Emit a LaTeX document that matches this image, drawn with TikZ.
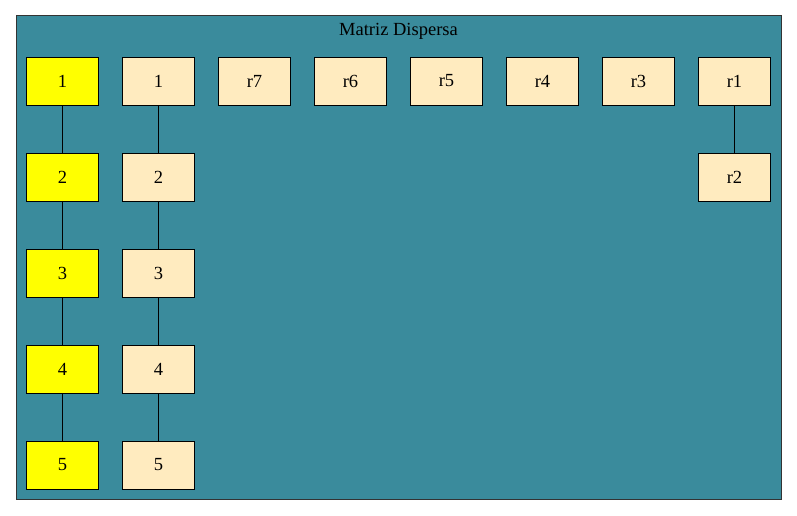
\documentclass[tikz,border=0pt]{standalone}
\usepackage{fontspec}
\setmainfont{Liberation Serif}
\definecolor{clusterfill}{RGB}{58,139,156}
\definecolor{cream}{RGB}{255,235,191}
\definecolor{yel}{RGB}{255,255,0}
\begin{document}
\begin{tikzpicture}[x=1pt,y=-1pt,
  cell/.style={draw=black,line width=0.9pt,minimum width=72pt,minimum height=48pt,inner sep=0pt,font=\fontsize{18.5}{20}\selectfont},
  head/.style={cell,fill=yel},
  cl/.style={cell,fill=cream},
  link/.style={draw=black,line width=0.9pt}]
\useasboundingbox (0,0) rectangle (797,516);
\filldraw[fill=clusterfill,draw=black!80,line width=1pt] (16,15.5) rectangle (781,499);
\node[font=\fontsize{18.5}{20}\selectfont] (title) at (398.5,31) {Matriz Dispersa};
% column of heads
\node[head] (h1) at (62.5,81) {1};
\node[head] (h2) at (62.5,177) {2};
\node[head] (h3) at (62.5,273) {3};
\node[head] (h4) at (62.5,369) {4};
\node[head] (h5) at (62.5,465) {5};
% second column
\node[cl] (c1) at (158.5,81) {1};
\node[cl] (c2) at (158.5,177) {2};
\node[cl] (c3) at (158.5,273) {3};
\node[cl] (c4) at (158.5,369) {4};
\node[cl] (c5) at (158.5,465) {5};
% top row
\node[cl] (r7) at (254.5,81) {r7};
\node[cl] (r6) at (350.5,81) {r6};
\node[cl] (r5) at (446.5,81) {r5};
\node[cl] (r4) at (542.5,81) {r4};
\node[cl] (r3) at (638.5,81) {r3};
\node[cl] (r1) at (734.5,81) {r1};
\node[cl] (r2) at (734.5,177) {r2};
% links
\draw[link] (h1) -- (h2);
\draw[link] (h2) -- (h3);
\draw[link] (h3) -- (h4);
\draw[link] (h4) -- (h5);
\draw[link] (c1) -- (c2);
\draw[link] (c2) -- (c3);
\draw[link] (c3) -- (c4);
\draw[link] (c4) -- (c5);
\draw[link] (r1) -- (r2);
\end{tikzpicture}
\end{document}
